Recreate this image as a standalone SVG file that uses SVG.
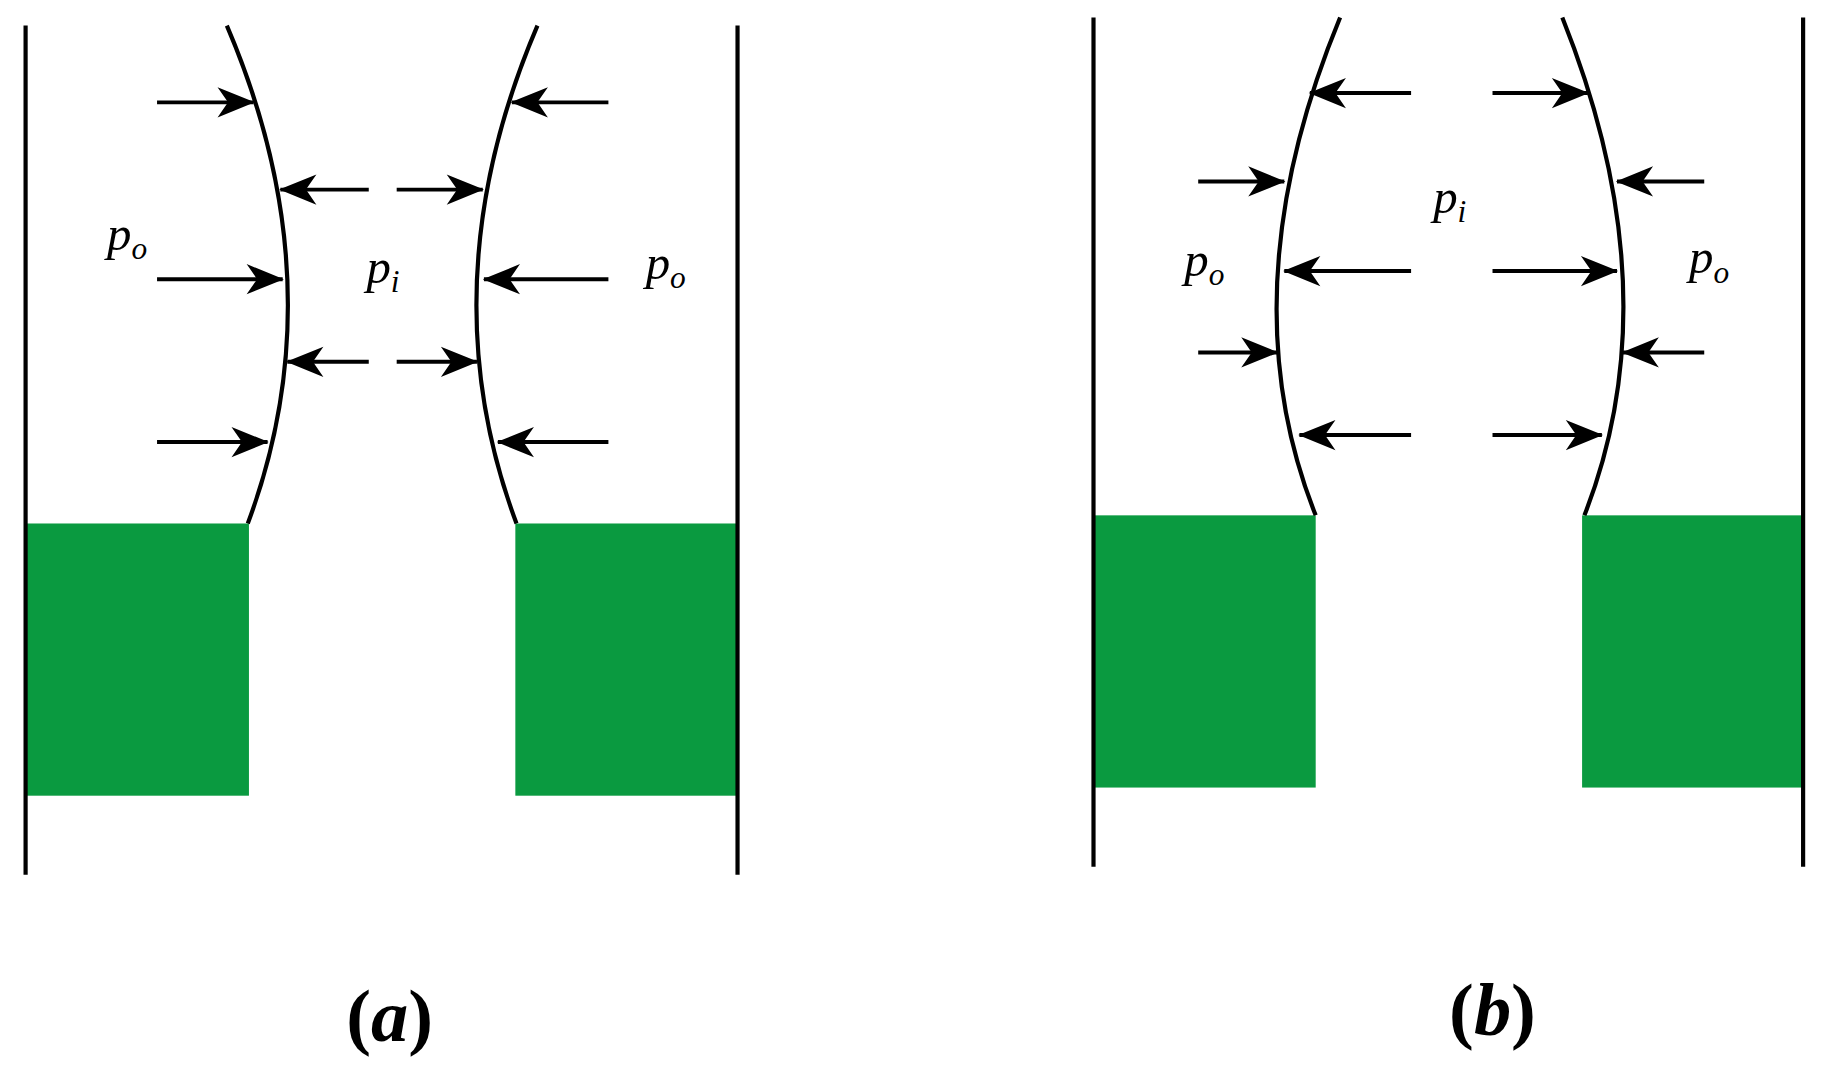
<svg xmlns="http://www.w3.org/2000/svg" width="1824" height="1080" viewBox="0 0 1824 1080">
<defs>
<marker id="ah" markerUnits="userSpaceOnUse" viewBox="-1 -14 34 28" markerWidth="34" markerHeight="28" refX="31" refY="0" orient="auto"><path d="M0,-13 L32,0 L0,13 L9,0 Z" fill="#000"/></marker>
<style>
.w{stroke:#000;stroke-width:3.6;fill:none}
.a{stroke:#000;stroke-width:3.4;fill:none;marker-end:url(#ah)}
.g{fill:#0a9a40}
.t{font-family:'Liberation Serif','Times New Roman',serif;font-style:italic;font-size:42px}
.s{font-size:27px}
.c{font-family:'Liberation Serif','Times New Roman',serif;font-size:64px;font-weight:bold}
</style>
</defs>
<g transform="scale(1.1633)">
<g id="panel-a">
<rect class="g" x="22" y="450" width="192" height="234"/>
<rect class="g" x="443" y="450" width="191" height="234"/>
<line class="w" x1="22" y1="22" x2="22" y2="752"/>
<line class="w" x1="634" y1="22" x2="634" y2="752"/>
<path class="w" d="M195,22 Q290,244 213,450"/>
<path class="w" d="M462,22 Q367,244 444,450"/>
<text class="t" x="92" y="215">p<tspan class="s" dy="8">o</tspan></text>
<text class="t" x="315" y="243">p<tspan class="s" dy="8">i</tspan></text>
<text class="t" x="555" y="240">p<tspan class="s" dy="8">o</tspan></text>
<text class="c" x="335" y="895" text-anchor="middle">(<tspan font-style="italic">a</tspan>)</text>
</g>
<g id="panel-b">
<rect class="g" x="940" y="443" width="191" height="234"/>
<rect class="g" x="1360" y="443" width="190" height="234"/>
<line class="w" x1="940" y1="15" x2="940" y2="745"/>
<line class="w" x1="1550" y1="15" x2="1550" y2="745"/>
<path class="w" d="M1152,15 Q1054.5,251 1131,443"/>
<path class="w" d="M1343,15 Q1437.5,251 1362,443"/>
<text class="t" x="1232" y="183">p<tspan class="s" dy="8">i</tspan></text>
<text class="t" x="1018" y="237">p<tspan class="s" dy="8">o</tspan></text>
<text class="t" x="1452" y="235">p<tspan class="s" dy="8">o</tspan></text>
<text class="c" x="1283" y="890" text-anchor="middle">(<tspan font-style="italic">b</tspan>)</text>
</g>
<g id="connectors">
<line class="a" x1="135" y1="88" x2="218" y2="88"/>
<line class="a" x1="135" y1="240" x2="243" y2="240"/>
<line class="a" x1="135" y1="380" x2="230" y2="380"/>
<line class="a" x1="523" y1="88" x2="440" y2="88"/>
<line class="a" x1="523" y1="240" x2="416" y2="240"/>
<line class="a" x1="523" y1="380" x2="428" y2="380"/>
<line class="a" x1="317" y1="163" x2="241" y2="163"/>
<line class="a" x1="341" y1="163" x2="415" y2="163"/>
<line class="a" x1="317" y1="311" x2="247" y2="311"/>
<line class="a" x1="341" y1="311" x2="410" y2="311"/>
<line class="a" x1="1213" y1="80" x2="1126" y2="80"/>
<line class="a" x1="1283" y1="80" x2="1365" y2="80"/>
<line class="a" x1="1213" y1="233" x2="1104" y2="233"/>
<line class="a" x1="1283" y1="233" x2="1390" y2="233"/>
<line class="a" x1="1213" y1="374" x2="1117" y2="374"/>
<line class="a" x1="1283" y1="374" x2="1377" y2="374"/>
<line class="a" x1="1030" y1="156" x2="1104" y2="156"/>
<line class="a" x1="1465" y1="156" x2="1390" y2="156"/>
<line class="a" x1="1030" y1="303" x2="1098" y2="303"/>
<line class="a" x1="1465" y1="303" x2="1395" y2="303"/>
</g>
</g>
</svg>
